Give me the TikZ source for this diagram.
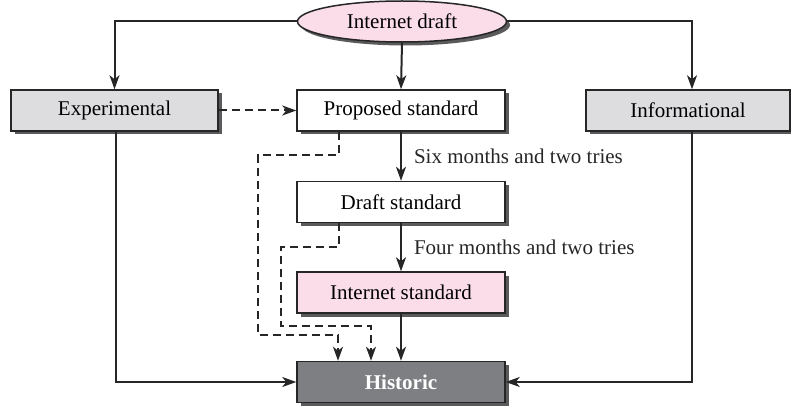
\documentclass[tikz,border=0pt]{standalone}
\usepackage{fontspec}
\setmainfont{Liberation Serif}
\usepackage{tikz}
\usetikzlibrary{shapes.geometric,shadows,arrows.meta}

\definecolor{rfcpink}{HTML}{FADDE9}
\definecolor{rfcgray}{HTML}{DDDDDF}
\definecolor{rfcdark}{HTML}{7E7F82}
\definecolor{rfcshadow}{HTML}{5A5A5C}

\tikzset{
    stagebox/.style={draw=black!85, line width=1.5pt, fill=white, minimum width=208pt, minimum height=41pt, inner sep=0pt,
        drop shadow={shadow xshift=3.5pt, shadow yshift=-3.5pt, fill=rfcshadow, opacity=1}},
    flow/.style={-{Stealth[length=14pt, width=10pt, inset=4pt]}, line width=2pt, black!85},
    dashflow/.style={flow, dash pattern=on 8pt off 5pt},
    steplabel/.style={right, xshift=8pt, inner sep=4pt}
}

\begin{document}
\begin{tikzpicture}[x=1pt, y=-1pt, font=\fontsize{21}{25}\selectfont]
            \useasboundingbox (0,0) rectangle (791,406);

            % Define the stages
            \node[stagebox, ellipse, fill=rfcpink, minimum width=209pt, minimum height=41pt] (idraft) at (402,21.5) {Internet draft};
            \node[stagebox, fill=rfcgray, minimum width=207pt] (exper) at (114.5,110.5) {Experimental};
            \node[stagebox] (prop) at (401,110.5) {Proposed standard};
            \node[stagebox, fill=rfcgray, minimum width=204pt] (info) at (688,110.5) {Informational};
            \node[stagebox] (dstd) at (401,202) {Draft standard};
            \node[stagebox, fill=rfcpink] (istd) at (401,292.5) {Internet standard};
            \node[stagebox, fill=rfcdark, text=white, font=\fontsize{21}{25}\selectfont\bfseries] (hist) at (401,382) {Historic};

            % Define the bends of the dashed lines
            \coordinate (p1) at (339,155);
            \coordinate (p2) at (258,155);
            \coordinate (p3) at (258,335);
            \coordinate (p4) at (338,335);
            \coordinate (q1) at (339,247);
            \coordinate (q2) at (281,247);
            \coordinate (q3) at (281,326);
            \coordinate (q4) at (371,326);

            % Draw the main track
            \draw[flow] (idraft.west) -| (exper.north);
            \draw[flow] (idraft.east) -| ([xshift=4pt]info.north);
            \draw[flow] (idraft.south) -- (prop.north);
            \draw[flow] (prop) -- (dstd) node[steplabel, midway] {Six months and two tries};
            \draw[flow] (dstd) -- (istd) node[steplabel, midway] {Four months and two tries};
            \draw[flow] (istd) -- (hist);
            \draw[dashflow] (exper.east) -- (prop.west);

            % Draw the side paths to Historic
            \draw[flow] ([xshift=1.5pt]exper.south) |- (hist.west);
            \draw[flow] ([xshift=4pt]info.south) |- (hist.east);
            \draw[dashflow] (prop.south -| p1) -- (p1) -- (p2) -- (p3) -- (p4) -- (p4 |- hist.north);
            \draw[dashflow] (dstd.south -| q1) -- (q1) -- (q2) -- (q3) -- (q4) -- (q4 |- hist.north);

        \end{tikzpicture}
\end{document}
